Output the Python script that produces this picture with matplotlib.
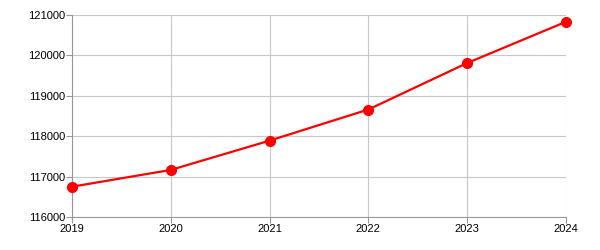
import matplotlib
matplotlib.use('Agg')
import matplotlib.pyplot as plt

# data
years = [2019, 2020, 2021, 2022, 2023, 2024]
values = [116750, 117165, 117890, 118660, 119810, 120830]
y_ticks = [116000, 117000, 118000, 119000, 120000, 121000]

plt.rcParams['font.family'] = ['Liberation Sans', 'DejaVu Sans']

fig = plt.figure(figsize=(6, 2.5), dpi=100)
ax = fig.add_axes([0.12, 0.132, 0.823, 0.808])

ax.plot(years, values, color='#ff0000', linewidth=1.6, marker='o',
        markersize=7, zorder=3, clip_on=False)

ax.set_xlim(years[0], years[-1])
ax.set_ylim(y_ticks[0], y_ticks[-1])
ax.set_xticks(years)
ax.set_yticks(y_ticks)
ax.grid(True, color='#c8c8c8', linewidth=0.8)
ax.set_axisbelow(True)

for side in ['top', 'right']:
  ax.spines[side].set_visible(False)
for side in ['left', 'bottom']:
  ax.spines[side].set_color('#999999')
  ax.spines[side].set_linewidth(0.8)
ax.tick_params(colors='#999999', labelcolor='black', labelsize=8, length=4, width=0.8, pad=1)

plt.savefig('out.png', dpi=100)
